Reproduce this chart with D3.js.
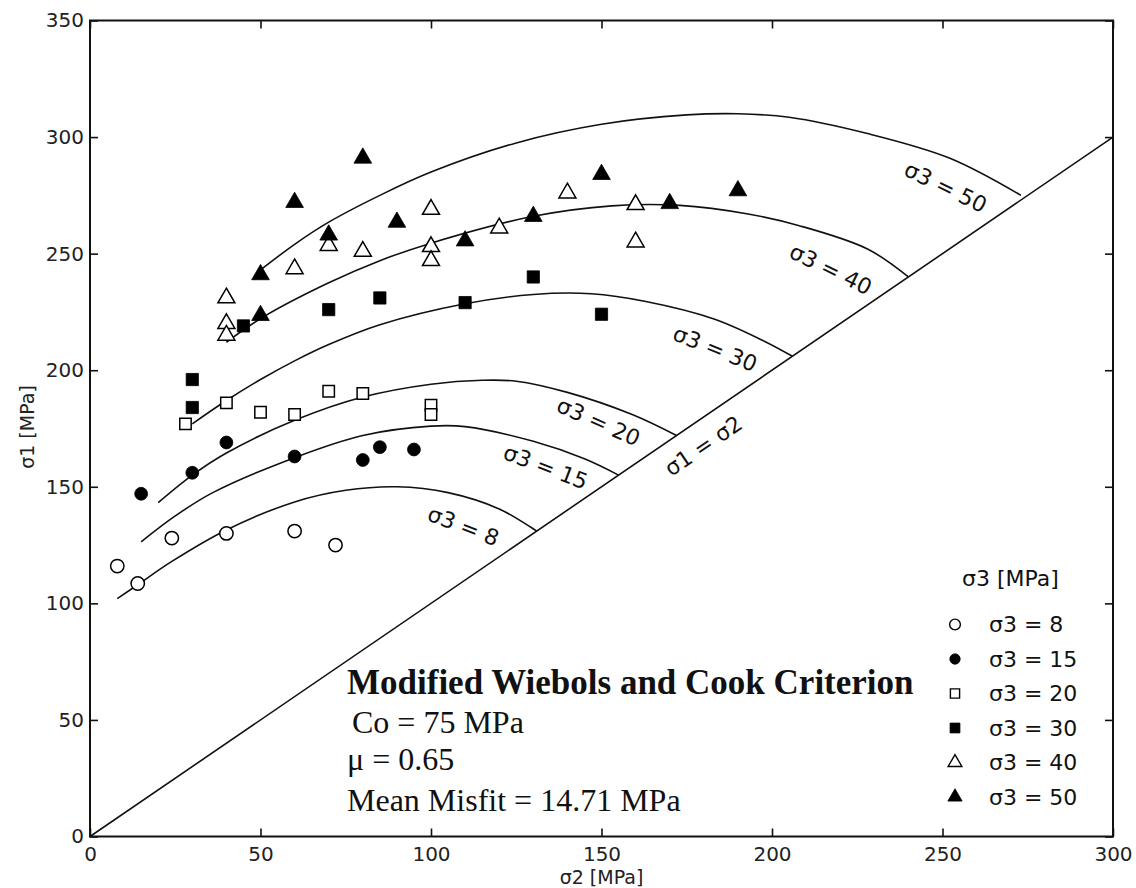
<!DOCTYPE html>
<html>
<head>
<meta charset="utf-8">
<script src="https://cdn.jsdelivr.net/npm/d3@7"></script>
<style>
  html, body { margin: 0; padding: 0; background: #fff; }
  svg { display: block; }
  .sans { font-family: "DejaVu Sans", "Liberation Sans", sans-serif; }
  .serif { font-family: "Liberation Serif", "Times New Roman", serif; }
</style>
</head>
<body>
<svg id="chart" width="1136" height="888"></svg>
<script>
// ---- data (σ2, σ1 in MPa) ----
const xTicks = [0, 50, 100, 150, 200, 250, 300];
const yTicks = [0, 50, 100, 150, 200, 250, 300, 350];
const sigma3Levels = [8, 15, 20, 30, 40, 50];

// measured strength data, one pair of arrays per σ3 level
const s2_8  = [8, 14, 24, 40, 60, 72];
const s1_8  = [116, 108.5, 128, 130, 131, 125];
const s2_15 = [15, 30, 40, 60, 80, 85, 95];
const s1_15 = [147, 156, 169, 163, 161.5, 167, 166];
const s2_20 = [28, 40, 50, 60, 70, 80, 100, 100];
const s1_20 = [177, 186, 182, 181, 191, 190, 185, 181];
const s2_30 = [30, 30, 45, 70, 85, 110, 130, 150];
const s1_30 = [196, 184, 219, 226, 231, 229, 240, 224];
const s2_40 = [40, 40, 40, 60, 70, 80, 100, 100, 100, 120, 140, 160, 160];
const s1_40 = [231, 220, 215, 243.5, 253.5, 251, 269, 253, 247, 261, 276, 271, 255];
const s2_50 = [50, 50, 60, 70, 80, 90, 110, 130, 150, 170, 190];
const s1_50 = [241, 223.5, 272, 258, 291, 263.5, 255.5, 266, 284, 271.5, 277];

// criterion curves, σ2 from σ3 up to the σ1 = σ2 line
const c2_8  = [8, 14, 24, 40, 60, 75, 90, 105, 120, 131];
const c1_8  = [102, 108, 118, 131.5, 143.5, 148.5, 150, 147.5, 140.5, 131];
const c2_15 = [15, 25, 36, 60, 80, 100, 110, 130, 145, 155];
const c1_15 = [126.4, 137.5, 147.5, 162.5, 172, 176, 175.8, 169.5, 162, 155];
const c2_20 = [20, 30, 40, 60, 80, 100, 115, 125, 140, 159, 172];
const c1_20 = [143.2, 155, 164.5, 178.5, 188.5, 194, 195.7, 195.3, 190.5, 181, 172];
const c2_30 = [30, 40, 50, 60, 70, 85, 110, 130, 147, 163, 183, 197, 206];
const c1_30 = [177, 187, 196, 204, 211, 219.5, 228.5, 232.5, 232.8, 229.5, 222, 213, 206];
const c2_40 = [40, 51, 70, 85, 100, 130, 153, 173, 193, 208, 228, 240];
const c1_40 = [212, 223, 237.5, 247, 254.5, 266, 270.5, 270.7, 267, 262, 252, 240];
const c2_50 = [50, 60, 70, 85, 100, 125, 150, 175, 190, 205, 228, 252, 273];
const c1_50 = [243, 254, 263.5, 275, 285, 297.5, 305.5, 309.5, 310, 308.5, 301.5, 291, 275];

// σ1 = σ2 reference line
const diag = [0, 300];

// curve labels: anchor (σ2, σ1) and tilt in degrees
const curveLabelText = ["σ3 = 8", "σ3 = 15", "σ3 = 20", "σ3 = 30", "σ3 = 40", "σ3 = 50"];
const curveLabelX = [109.5, 133.6, 149.1, 183.3, 217.2, 250.9];
const curveLabelY = [133.1, 158.5, 177.8, 209.2, 243.2, 278.5];
const curveLabelAngle = [21, 21, 24, 22, 26, 26];

const infoTitle = "Modified Wiebols and Cook Criterion";
const infoLines = ["Co = 75 MPa", "μ = 0.65", "Mean Misfit = 14.71 MPa"];

// ---- layout ----
const svg = d3.select("#chart");
const plotL = 90, plotR = 1113, plotT = 20.5, plotB = 836.5;
const x = d3.scaleLinear().domain([0, 300]).range([plotL, plotR]);
const y = d3.scaleLinear().domain([0, 350]).range([plotB, plotT]);

const pointSets = [
  { s2: s2_8,  s1: s1_8,  shape: d3.symbolCircle,   size: 140, fill: false },
  { s2: s2_15, s1: s1_15, shape: d3.symbolCircle,   size: 130, fill: true },
  { s2: s2_20, s1: s1_20, shape: d3.symbolSquare,   size: 130, fill: false },
  { s2: s2_30, s1: s1_30, shape: d3.symbolSquare,   size: 150, fill: true },
  { s2: s2_40, s1: s1_40, shape: d3.symbolTriangle, size: 125, fill: false },
  { s2: s2_50, s1: s1_50, shape: d3.symbolTriangle, size: 135, fill: true }
];
const curveSets = [[c2_8, c1_8], [c2_15, c1_15], [c2_20, c1_20], [c2_30, c1_30], [c2_40, c1_40], [c2_50, c1_50]];

// ---- axes with inward ticks on all four sides ----
const axB = svg.append("g").attr("transform", `translate(0,${plotB})`)
  .call(d3.axisBottom(x).tickValues(xTicks).tickSize(-8).tickPadding(10).tickFormat(d3.format("d")));
const axL = svg.append("g").attr("transform", `translate(${plotL},0)`)
  .call(d3.axisLeft(y).tickValues(yTicks).tickSize(-8).tickPadding(6).tickFormat(d3.format("d")));
const axT = svg.append("g").attr("transform", `translate(0,${plotT})`)
  .call(d3.axisTop(x).tickValues(xTicks).tickSize(-8).tickFormat(""));
const axR = svg.append("g").attr("transform", `translate(${plotR},0)`)
  .call(d3.axisRight(y).tickValues(yTicks).tickSize(-8).tickFormat(""));
[axB, axL, axT, axR].forEach(a => {
  a.select(".domain").remove();
  a.selectAll(".tick line").attr("stroke", "#111").attr("stroke-width", 1.6);
  a.selectAll("text").attr("font-size", 20).attr("fill", "#222")
    .attr("font-family", "'DejaVu Sans', 'Liberation Sans', sans-serif");
});

// frame
svg.append("rect").attr("x", plotL).attr("y", plotT)
  .attr("width", plotR - plotL).attr("height", plotB - plotT)
  .attr("fill", "none").attr("stroke", "#111").attr("stroke-width", 2);

// axis titles
svg.append("text").attr("class", "sans").attr("x", x(150)).attr("y", 884)
  .attr("text-anchor", "middle").attr("font-size", 19).attr("fill", "#222").text("σ2 [MPa]");
svg.append("text").attr("class", "sans")
  .attr("transform", "translate(34,427) rotate(-90)")
  .attr("text-anchor", "middle").attr("font-size", 19).attr("fill", "#222").text("σ1 [MPa]");

// σ1 = σ2 line
svg.append("line")
  .attr("x1", x(diag[0])).attr("y1", y(diag[0]))
  .attr("x2", x(diag[1])).attr("y2", y(diag[1]))
  .attr("stroke", "#111").attr("stroke-width", 1.6);

// criterion curves
const line = d3.line().curve(d3.curveCatmullRom.alpha(0.5)).x(d => x(d[0])).y(d => y(d[1]));
curveSets.forEach(([a, b]) => {
  svg.append("path").attr("d", line(a.map((v, i) => [v, b[i]])))
    .attr("fill", "none").attr("stroke", "#111").attr("stroke-width", 1.6);
});

// curve labels
curveLabelText.forEach((t, i) => {
  svg.append("text").attr("class", "sans")
    .attr("transform", `translate(${x(curveLabelX[i])},${y(curveLabelY[i])}) rotate(${curveLabelAngle[i]})`)
    .attr("text-anchor", "middle").attr("dominant-baseline", "central")
    .attr("font-size", 22).attr("fill", "#111").text(t);
});
svg.append("text").attr("class", "sans")
  .attr("transform", `translate(${x(179.9)},${y(167.5)}) rotate(-34.4)`)
  .attr("text-anchor", "middle").attr("dominant-baseline", "central")
  .attr("font-size", 22).attr("fill", "#111").text("σ1 = σ2");

// data points
pointSets.forEach(ps => {
  const sym = d3.symbol().type(ps.shape).size(ps.size);
  svg.append("g").selectAll("path")
    .data(ps.s2.map((v, i) => [v, ps.s1[i]]))
    .join("path")
    .attr("d", sym)
    .attr("transform", d => `translate(${x(d[0])},${y(d[1])})`)
    .attr("fill", ps.fill ? "#000" : "#fff")
    .attr("stroke", "#000").attr("stroke-width", ps.fill ? 0.8 : 1.5);
});

// info block
const info = svg.append("g").attr("class", "serif").attr("fill", "#111");
info.append("text").attr("x", 347).attr("y", 694).attr("font-size", 35)
  .attr("font-weight", "bold").text(infoTitle);
const infoX = [352, 347, 347];
const infoY = [733, 770, 811];
infoLines.forEach((t, i) => {
  info.append("text").attr("x", infoX[i]).attr("y", infoY[i]).attr("font-size", 32).text(t);
});

// legend
const legend = svg.append("g").attr("class", "sans").attr("fill", "#111");
legend.append("text").attr("x", 962).attr("y", 578).attr("dominant-baseline", "central")
  .attr("font-size", 22).text("σ3 [MPa]");
sigma3Levels.forEach((lvl, i) => {
  const ry = 624.5 + i * 34.5;
  const ps = pointSets[i];
  legend.append("path")
    .attr("d", d3.symbol().type(ps.shape).size(ps.size * 0.65)())
    .attr("transform", `translate(955,${ry})`)
    .attr("fill", ps.fill ? "#000" : "#fff")
    .attr("stroke", "#000").attr("stroke-width", ps.fill ? 0.8 : 1.4);
  legend.append("text").attr("x", 989).attr("y", ry).attr("dominant-baseline", "central")
    .attr("font-size", 22).text(`σ3 = ${lvl}`);
});
</script>
</body>
</html>
